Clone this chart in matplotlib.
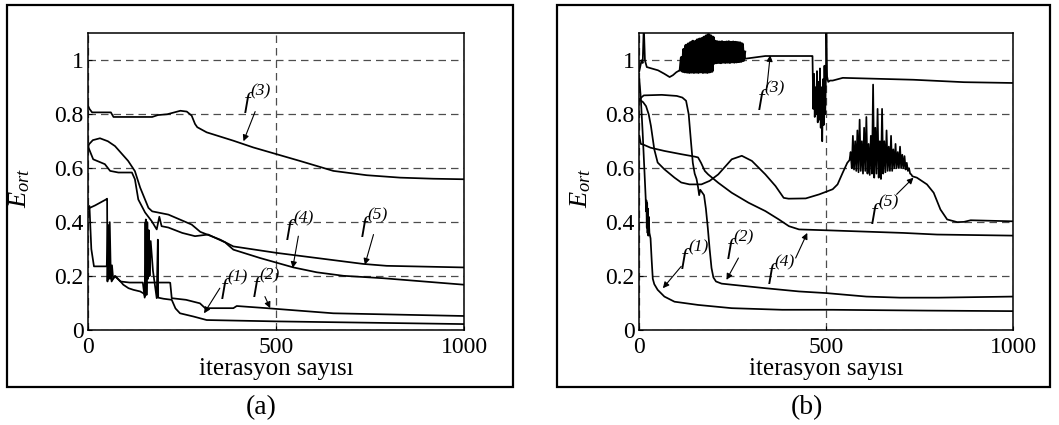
import matplotlib
matplotlib.use("Agg")
import matplotlib.pyplot as plt
from matplotlib.patches import Rectangle

plt.rcParams['font.family'] = ['Liberation Serif', 'DejaVu Serif']
plt.rcParams['mathtext.fontset'] = 'custom'
plt.rcParams['mathtext.rm'] = 'Liberation Serif'
plt.rcParams['mathtext.it'] = 'Liberation Serif:italic'

# ---- panel (a) ----
a_f1_x = [0, 4, 18, 47, 50, 51, 53, 55, 58, 62, 70, 84, 93, 107, 120, 138, 148, 151, 153, 155,
          157, 159, 161, 163, 166, 172, 182, 185, 186, 200, 222, 232, 244, 280, 315, 500, 1000]
a_f1_y = [0.45, 0.453, 0.462, 0.484, 0.487, 0.18, 0.38, 0.19, 0.22, 0.18, 0.20, 0.183, 0.168, 0.155,
          0.149, 0.143, 0.135, 0.125, 0.41, 0.13, 0.40, 0.19, 0.37, 0.20, 0.33, 0.22, 0.118, 0.335,
          0.12, 0.116, 0.112, 0.08, 0.062, 0.05, 0.037, 0.032, 0.022]
a_f2_x = [0, 3, 8, 15, 49, 52, 54, 57, 60, 63, 66, 72, 85, 110, 145, 150, 152, 154, 156, 215,
          218, 222, 260, 297, 311, 386, 395, 475, 652, 1000]
a_f2_y = [0.45, 0.46, 0.30, 0.236, 0.236, 0.39, 0.19, 0.40, 0.19, 0.24, 0.19, 0.20, 0.18, 0.176,
          0.176, 0.12, 0.40, 0.14, 0.176, 0.176, 0.175, 0.118, 0.112, 0.099, 0.081, 0.081, 0.089,
          0.081, 0.062, 0.052]
a_f3_x = [0, 3, 10, 60, 67, 170, 185, 210, 245, 262, 275, 284, 290, 315, 386, 439, 501, 563,
          652, 741, 830, 918, 1000]
a_f3_y = [0.83, 0.82, 0.807, 0.807, 0.79, 0.79, 0.797, 0.80, 0.813, 0.81, 0.795, 0.764, 0.752,
          0.733, 0.702, 0.677, 0.652, 0.627, 0.59, 0.574, 0.565, 0.561, 0.559]
a_f4_x = [0, 2, 13, 44, 58, 80, 116, 124, 133, 151, 169, 182, 189, 195, 213, 250, 284, 319, 364,
          386, 457, 546, 608, 679, 785, 1000]
a_f4_y = [0.68, 0.671, 0.633, 0.615, 0.59, 0.584, 0.584, 0.559, 0.484, 0.436, 0.403, 0.373, 0.42,
          0.385, 0.38, 0.36, 0.348, 0.354, 0.325, 0.298, 0.267, 0.232, 0.214, 0.201, 0.192, 0.168]
a_f5_x = [0, 2, 12, 31, 52, 71, 106, 124, 138, 160, 170, 213, 275, 298, 351, 386, 501, 732, 794, 1000]
a_f5_y = [0.68, 0.689, 0.704, 0.711, 0.70, 0.682, 0.627, 0.589, 0.528, 0.453, 0.44, 0.428, 0.391,
          0.364, 0.335, 0.31, 0.286, 0.245, 0.238, 0.232]

# ---- panel (b) ----
b_f1_x = [0, 4, 9, 13, 17, 18, 19, 20, 21, 22, 23, 24, 25, 27, 30, 33, 36, 40, 49, 67, 94, 157,
          247, 382, 517, 769, 1000]
b_f1_y = [0.93, 0.86, 0.73, 0.61, 0.49, 0.44, 0.48, 0.38, 0.47, 0.36, 0.45, 0.35, 0.42, 0.36, 0.34,
          0.26, 0.19, 0.17, 0.149, 0.124, 0.105, 0.093, 0.081, 0.075, 0.075, 0.072, 0.07]
b_f2_x = [0, 5, 12, 60, 100, 115, 125, 132, 138, 143, 148, 153, 157, 160, 163, 168, 173, 178, 183,
          188, 193, 198, 205, 220, 247, 337, 427, 499, 607, 697, 800, 1000]
b_f2_y = [0.85, 0.862, 0.87, 0.872, 0.868, 0.862, 0.85, 0.80, 0.70, 0.62, 0.58, 0.56, 0.53, 0.50,
          0.52, 0.51, 0.50, 0.45, 0.38, 0.30, 0.23, 0.195, 0.18, 0.172, 0.168, 0.155, 0.143, 0.137,
          0.124, 0.12, 0.12, 0.124]
b_f3_head_x = [0, 3, 6, 9, 12, 15, 20, 50, 67, 81, 90, 99, 108, 110]
b_f3_head_y = [0.96, 0.98, 1.0, 0.99, 1.13, 1.0, 0.975, 0.963, 0.95, 0.938, 0.945, 0.956, 0.963, 0.965]
b_f3_band_x = [110, 113, 116, 119, 122, 125, 128, 131, 134, 137, 140, 143, 146, 149, 152, 155, 158,
               161, 164, 167, 170, 173, 176, 179, 182, 185, 188, 191, 194, 197, 200, 203, 206, 209,
               212, 215, 218, 221, 224, 227, 230, 233, 236, 239, 242, 245, 248, 251, 254, 257, 260,
               263, 266, 269, 272, 275, 278, 281]
b_f3_band_y = [0.965, 1.01, 0.96, 1.04, 0.958, 1.055, 0.957, 1.06, 0.956, 1.065, 0.957, 1.07, 0.956,
               1.068, 0.957, 1.075, 0.956, 1.078, 0.958, 1.08, 0.956, 1.085, 0.957, 1.09, 0.956,
               1.095, 0.958, 1.09, 0.96, 1.085, 0.99, 1.07, 0.992, 1.068, 0.993, 1.067, 0.992,
               1.068, 0.994, 1.066, 0.993, 1.067, 0.994, 1.068, 0.993, 1.066, 0.995, 1.067, 0.994,
               1.066, 0.995, 1.065, 0.996, 1.064, 0.997, 1.06, 1.0, 1.03]
b_f3_mid_x = [281, 283, 337, 462, 463, 465, 467, 469, 471, 473, 475, 477, 479, 481, 483, 485, 487,
              489, 491, 493, 495, 497, 499, 500, 502, 505, 510]
b_f3_mid_y = [1.03, 1.006, 1.016, 1.016, 1.016, 0.82, 0.95, 0.79, 0.90, 0.80, 0.96, 0.77, 0.92,
              0.78, 0.97, 0.75, 0.90, 0.70, 0.93, 0.76, 0.98, 0.80, 0.95, 1.12, 0.94, 0.92, 0.925]
b_f3_tail_x = [517, 544, 733, 868, 1000]
b_f3_tail_y = [0.925, 0.935, 0.928, 0.919, 0.916]
b_f4_x = [0, 4, 10, 30, 67, 112, 148, 157, 165, 175, 184, 211, 247, 292, 337, 373, 400, 427, 517,
          706, 796, 1000]
b_f4_y = [0.72, 0.69, 0.688, 0.676, 0.664, 0.652, 0.643, 0.64, 0.62, 0.59, 0.577, 0.546, 0.509,
          0.472, 0.441, 0.41, 0.385, 0.373, 0.369, 0.36, 0.354, 0.35]
b_f5_head_x = [0, 10, 18, 25, 31, 40, 49, 67, 94, 112, 134, 166, 188, 211, 247, 274, 301, 337, 364,
               386, 399, 445, 481, 517, 530, 544, 556]
b_f5_head_y = [0.855, 0.845, 0.83, 0.80, 0.757, 0.67, 0.621, 0.596, 0.565, 0.547, 0.54, 0.54, 0.553,
               0.577, 0.633, 0.646, 0.627, 0.577, 0.534, 0.49, 0.487, 0.488, 0.503, 0.522, 0.54,
               0.584, 0.62]
b_f5_noise_x = [562, 565, 568, 571, 574, 577, 580, 583, 586, 589, 592, 595, 598, 601, 604, 607, 610,
                613, 616, 619, 622, 625, 628, 631, 634, 637, 640, 643, 646, 649, 652, 655, 658, 661,
                664, 667, 670, 673, 676, 679, 682, 685, 688, 691, 694, 697, 700, 703, 706, 709, 712,
                715, 718, 721, 724, 727, 730]
b_f5_noise_y = [0.63, 0.66, 0.60, 0.72, 0.595, 0.70, 0.59, 0.74, 0.585, 0.78, 0.59, 0.70, 0.58, 0.75,
                0.59, 0.79, 0.58, 0.69, 0.575, 0.72, 0.58, 0.91, 0.565, 0.75, 0.58, 0.82, 0.565,
                0.70, 0.56, 0.82, 0.58, 0.70, 0.585, 0.74, 0.59, 0.68, 0.59, 0.72, 0.59, 0.67, 0.60,
                0.69, 0.60, 0.66, 0.60, 0.68, 0.60, 0.65, 0.60, 0.645, 0.595, 0.62, 0.59, 0.60, 0.58,
                0.577, 0.57]
b_f5_tail_x = [742, 769, 787, 805, 823, 850, 868, 886, 1000]
b_f5_tail_y = [0.565, 0.54, 0.509, 0.447, 0.41, 0.40, 0.401, 0.407, 0.403]

b_f3_x = b_f3_head_x + b_f3_mid_x + b_f3_tail_x
b_f3_y = b_f3_head_y + b_f3_mid_y + b_f3_tail_y
b_f5_x = b_f5_head_x + b_f5_noise_x + b_f5_tail_x
b_f5_y = b_f5_head_y + b_f5_noise_y + b_f5_tail_y

yticks = [0, 0.2, 0.4, 0.6, 0.8, 1]
ytick_labels = ['0', '0.2', '0.4', '0.6', '0.8', '1']
xticks = [0, 500, 1000]

fig = plt.figure(figsize=(10.59, 4.25), dpi=100)

# kutu cerceveler
for x0, w in [(0.0063, 0.4778), (0.5257, 0.4660)]:
    fig.patches.append(Rectangle((x0, 0.0901), w, 0.898, transform=fig.transFigure,
                                 fill=False, lw=1.6, edgecolor='k'))


def setup(ax, ylab_x):
    ax.set_xlim(0, 1000)
    ax.set_ylim(0, 1.1)
    ax.set_xticks(xticks)
    ax.set_yticks(yticks)
    ax.set_yticklabels(ytick_labels)
    ax.tick_params(direction='in', length=3, labelsize=17)
    ax.tick_params(axis='x', pad=5)
    ax.grid(True, linestyle=(0, (6, 4)), color='0.3', lw=0.9)
    for s in ax.spines.values():
        s.set_linewidth(1.1)
    ax.set_xlabel('iterasyon sayısı', fontsize=18, labelpad=0)
    ax.set_ylabel(r'$E_{ort}$', fontsize=19)
    ax.yaxis.set_label_coords(ylab_x, 0.48)


def flabel(ax, n, txt_xy, tail, head):
    ax.annotate('f', xy=txt_xy, xytext=(-5, -3), textcoords='offset points',
                fontsize=17, style='italic', ha='center', va='center')
    ax.annotate('(%d)' % n, xy=txt_xy, xytext=(5, 5), textcoords='offset points',
                fontsize=12.5, style='italic', ha='center', va='center')
    ax.annotate('', xy=head, xytext=tail,
                arrowprops=dict(arrowstyle='-|>', color='k', lw=0.8,
                                mutation_scale=9, shrinkA=0, shrinkB=0))


lw = 1.25
ax1 = fig.add_axes([0.0834, 0.2235, 0.3548, 0.698])
setup(ax1, -0.15)
for xs, ys in [(a_f1_x, a_f1_y), (a_f2_x, a_f2_y), (a_f3_x, a_f3_y),
               (a_f4_x, a_f4_y), (a_f5_x, a_f5_y)]:
    ax1.plot(xs, ys, color='k', lw=lw)
flabel(ax1, 3, (441, 0.86), (444, 0.81), (413, 0.70))
flabel(ax1, 4, (553, 0.39), (559, 0.348), (544, 0.23))
flabel(ax1, 5, (752, 0.40), (759, 0.354), (736, 0.242))
flabel(ax1, 1, (379, 0.17), (350, 0.155), (308, 0.062))
flabel(ax1, 2, (464, 0.176), (470, 0.124), (484, 0.081))

ax2 = fig.add_axes([0.6037, 0.2235, 0.3532, 0.698])
setup(ax2, -0.125)
for xs, ys in [(b_f1_x, b_f1_y), (b_f2_x, b_f2_y), (b_f3_x, b_f3_y),
               (b_f4_x, b_f4_y), (b_f5_x, b_f5_y)]:
    ax2.plot(xs, ys, color='k', lw=lw)
# yogun salinim bandi daha kalin cizgi ile
ax2.plot(b_f3_band_x, b_f3_band_y, color='k', lw=2.4)
flabel(ax2, 3, (343, 0.87), (341, 0.90), (350, 1.019))
flabel(ax2, 1, (139, 0.28), (112, 0.236), (63, 0.155))
flabel(ax2, 2, (260, 0.317), (265, 0.267), (233, 0.186))
flabel(ax2, 4, (370, 0.225), (418, 0.267), (449, 0.36))
flabel(ax2, 5, (647, 0.447), (688, 0.503), (733, 0.565))

fig.text(0.247, 0.04, '(a)', fontsize=20, ha='center', va='center')
fig.text(0.762, 0.04, '(b)', fontsize=20, ha='center', va='center')

fig.savefig('out.png', dpi=100)
